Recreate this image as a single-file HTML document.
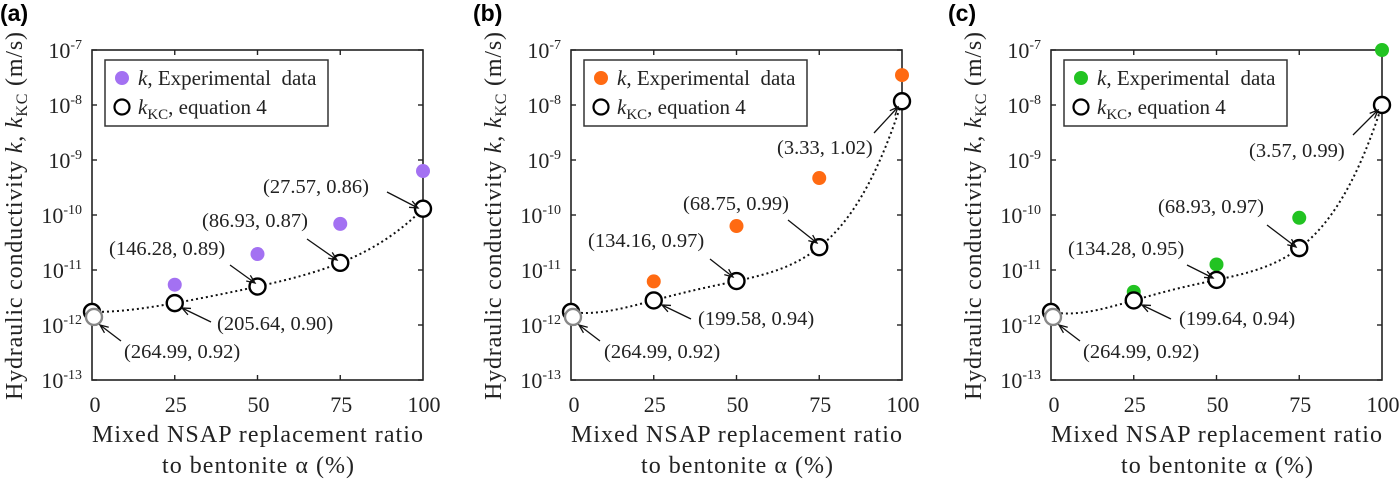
<!DOCTYPE html>
<html><head><meta charset="utf-8">
<style>
html,body{margin:0;padding:0;background:#fff;}
svg{display:block;}
svg text{font-family:"Liberation Serif","Times New Roman",Times,serif;}
svg text.sans{font-family:"Liberation Sans",Arial,sans-serif;}
</style></head>
<body>
<svg id="fig" width="1400" height="480" viewBox="0 0 1400 480" xmlns="http://www.w3.org/2000/svg"></svg>
<script>
const ratios = [0, 25, 50, 75, 100];
const xTicks = ["0", "25", "50", "75", "100"];
const yExponents = [-7, -8, -9, -10, -11, -12, -13];
const expA = [null, 5.4e-12, 1.95e-11, 6.9e-11, 6.3e-10];
const expB = [null, 6.2e-12, 6.3e-11, 4.7e-10, 3.5e-8];
const expC = [null, 4.0e-12, 1.26e-11, 8.9e-11, 1.0e-7];
const kcA = [1.73e-12, 2.5e-12, 5.0e-12, 1.35e-11, 1.3e-10];
const kcB = [1.73e-12, 2.8e-12, 6.3e-12, 2.6e-11, 1.17e-8];
const kcC = [1.73e-12, 2.8e-12, 6.6e-12, 2.5e-11, 1.0e-8];
const grayK = 1.4e-12;
const labelsA = ["(264.99, 0.92)", "(205.64, 0.90)", "(146.28, 0.89)", "(86.93, 0.87)", "(27.57, 0.86)"];
const labelsB = ["(264.99, 0.92)", "(199.58, 0.94)", "(134.16, 0.97)", "(68.75, 0.99)", "(3.33, 1.02)"];
const labelsC = ["(264.99, 0.92)", "(199.64, 0.94)", "(134.28, 0.95)", "(68.93, 0.97)", "(3.57, 0.99)"];

const NS = "http://www.w3.org/2000/svg";
const svg = document.getElementById("fig");
const SERIF = "Liberation Serif, Times New Roman, serif";
function mk(tag, attrs, parent) {
  const e = document.createElementNS(NS, tag);
  if (tag === "text" && !attrs["font-family"]) e.setAttribute("font-family", SERIF);
  for (const k in attrs) e.setAttribute(k, attrs[k]);
  (parent || svg).appendChild(e);
  return e;
}
const W = 331, TOP = 50, BOT = 380, DEC = 55;

const annA = [[32,358,29,341,8,325],[125,330,119,322,90,308],[17,255,138,265,163,283],[110,227,215,239,245,260],[171,193,295,192,326,208]];
const annB = [[33,358,29,341,8,325],[127,325,120,319,91,305],[17,247,139,259,162,277],[112,210,217,220,246,243],[206,154,303,133,327,107]];
const annC = [[32,358,29,341,8,325],[128,325,120,319,91,305],[17,255,136,265,162,278],[107,213,216,225,245,247],[198,157,302,135,327,110]];

function panel(name, letter, letterX, x0, exp, kc, labels, ann, color) {
  const g = mk("g", {});
  
  
  const xs = v => x0 + v / 100 * W;
  const ys = v => TOP + (-7 - Math.log10(v)) * DEC;

  const pl = mk("text", {x: letterX, y: 21, "class": "sans", "font-family": "Liberation Sans, Arial, sans-serif", "font-weight": "bold", "font-size": 23}, g);
  pl.textContent = "(" + letter + ")";
  
  

  const fr = mk("rect", {x: x0, y: TOP, width: W, height: BOT - TOP, fill: "none", stroke: "#222", "stroke-width": 1.6}, g);
  
  

  yExponents.forEach(ex => {
    const y = TOP + (-7 - ex) * DEC;
    mk("line", {x1: x0, x2: x0 + 5, y1: y, y2: y, stroke: "#222", "stroke-width": 1.4}, g);
    mk("line", {x1: x0 + W, x2: x0 + W - 5, y1: y, y2: y, stroke: "#222", "stroke-width": 1.4}, g);
    const t = mk("text", {x: x0 - 10, y: y + 8, "text-anchor": "end", "font-size": 22, fill: "#222"}, g);
    
    
    const s1 = mk("tspan", {}, t); s1.textContent = "10";
    const s2 = mk("tspan", {dy: -9, "font-size": 14}, t); s2.textContent = String(ex);
  });
  ratios.forEach((r, i) => {
    const x = xs(r);
    if (i > 0 && i < ratios.length - 1) {
      mk("line", {x1: x, x2: x, y1: TOP, y2: TOP + 5, stroke: "#222", "stroke-width": 1.4}, g);
      mk("line", {x1: x, x2: x, y1: BOT, y2: BOT - 5, stroke: "#222", "stroke-width": 1.4}, g);
    }
    const t = mk("text", {x: x + (i === 0 ? 3 : 1), y: 412, "text-anchor": "middle", "font-size": 22, fill: "#222"}, g);
    t.textContent = xTicks[i];
    
    
  });

  const xt1 = mk("text", {x: x0, y: 442, "font-size": 24, textLength: 331, lengthAdjust: "spacing", fill: "#222"}, g);
  xt1.textContent = "Mixed NSAP replacement ratio";
  
  
  const xt2 = mk("text", {x: x0 + 70, y: 473, "font-size": 24, textLength: 192, lengthAdjust: "spacing", fill: "#222"}, g);
  xt2.textContent = "to bentonite α (%)";
  
  
  const yt = mk("text", {transform: "translate(" + (x0 - 70) + ",400) rotate(-90)", "font-size": 24, textLength: 368, lengthAdjust: "spacing", fill: "#222"}, g);
  
  
  let s = mk("tspan", {}, yt); s.textContent = "Hydraulic conductivity ";
  s = mk("tspan", {"font-style": "italic"}, yt); s.textContent = "k";
  s = mk("tspan", {}, yt); s.textContent = ", ";
  s = mk("tspan", {"font-style": "italic"}, yt); s.textContent = "k";
  s = mk("tspan", {"font-size": 16, dy: 5}, yt); s.textContent = "KC";
  s = mk("tspan", {dy: -5}, yt); s.textContent = " (m/s)";

  const lg = mk("g", {}, g);
  
  
  mk("rect", {x: x0 + 13, y: 60, width: 223, height: 66, fill: "#fff", stroke: "#333", "stroke-width": 1.5}, lg);
  mk("circle", {cx: x0 + 30, cy: 78, r: 7, fill: color}, lg);
  mk("circle", {cx: x0 + 30, cy: 107, r: 7.5, fill: "#fff", stroke: "#000", "stroke-width": 2.2}, lg);
  const l1 = mk("text", {x: x0 + 46, y: 85, "font-size": 21, fill: "#222"}, lg);
  
  
  s = mk("tspan", {"font-style": "italic"}, l1); s.textContent = "k";
  s = mk("tspan", {}, l1); s.textContent = ", Experimental\u00a0 data";
  const l2 = mk("text", {x: x0 + 46, y: 114, "font-size": 21, fill: "#222"}, lg);
  
  
  s = mk("tspan", {"font-style": "italic"}, l2); s.textContent = "k";
  s = mk("tspan", {"font-size": 15, dy: 5}, l2); s.textContent = "KC";
  s = mk("tspan", {dy: -5}, l2); s.textContent = ", equation 4";

  const L = kc.map(v => Math.log10(v));
  function interp(r) {
    let sum = 0;
    for (let i = 0; i < ratios.length; i++) {
      let term = L[i];
      for (let j = 0; j < ratios.length; j++) if (j !== i) term *= (r - ratios[j]) / (ratios[i] - ratios[j]);
      sum += term;
    }
    return sum;
  }
  let d = "";
  for (let k = 0; k <= 100; k++) {
    const r = ratios[0] + (ratios[ratios.length - 1] - ratios[0]) * k / 100;
    const y = TOP + (-7 - interp(r)) * DEC;
    d += (k ? " L" : "M") + xs(r).toFixed(2) + "," + y.toFixed(2);
  }
  const cv = mk("path", {d: d, fill: "none", stroke: "#111", "stroke-width": 2, "stroke-dasharray": "2 3"}, g);
  
  

  ratios.forEach((r, i) => {
    if (exp[i] == null) return;
    const c = mk("circle", {cx: xs(r), cy: ys(exp[i]), r: 7, fill: color}, g);
    
    
  });
  ratios.forEach((r, i) => {
    const c = mk("circle", {cx: xs(r), cy: ys(kc[i]), r: 8, fill: "#fff", stroke: "#000", "stroke-width": 2.4}, g);
    
    
  });
  const gc = mk("circle", {cx: xs(0) + 2, cy: ys(grayK), r: 8, fill: "#fff", stroke: "#888", "stroke-width": 2.4}, g);
  
  

  labels.forEach((lab, i) => {
    const a = ann[i];
    const t = mk("text", {x: x0 + a[0], y: a[1], "font-size": 20.5, fill: "#222"}, g);
    t.textContent = lab;
    
    
    const x1 = x0 + a[2], y1 = a[3], x2 = x0 + a[4], y2 = a[5];
    mk("line", {x1: x1, y1: y1, x2: x2, y2: y2, stroke: "#111", "stroke-width": 1.3}, g);
    const ang = Math.atan2(y2 - y1, x2 - x1), AL = 9, wA = 0.4;
    const p1 = [x2 - AL * Math.cos(ang - wA), y2 - AL * Math.sin(ang - wA)];
    const p2 = [x2 - AL * Math.cos(ang + wA), y2 - AL * Math.sin(ang + wA)];
    mk("polyline", {points: p1 + " " + x2 + "," + y2 + " " + p2, fill: "none", stroke: "#111", "stroke-width": 1.3}, g);
  });
}
panel("a", "a", 0, 92, expA, kcA, labelsA, annA, "#a371f2");
panel("b", "b", 473, 571, expB, kcB, labelsB, annB, "#ff6a12");
panel("c", "c", 948, 1051, expC, kcC, labelsC, annC, "#22c322");
</script>
</body></html>
